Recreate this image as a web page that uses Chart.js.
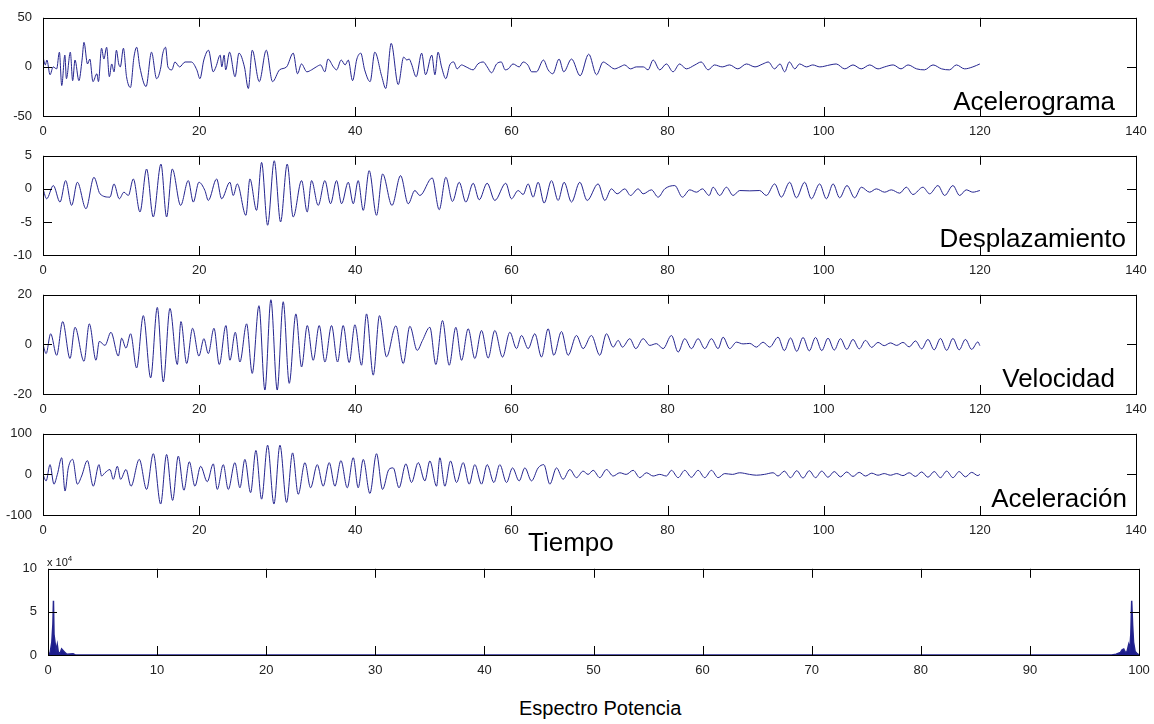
<!DOCTYPE html>
<html>
<head>
<meta charset="utf-8">
<script src="https://cdn.jsdelivr.net/npm/chart.js@4.4.1/dist/chart.umd.min.js"></script>
<style>
  html, body { margin: 0; padding: 0; background: #fff; overflow: hidden; }
  body { width: 1154px; height: 724px; position: relative; font-family: "Liberation Sans", Arial, sans-serif; }
  canvas { position: absolute; left: 0; }
  .lbl { position: absolute; font-size: 26px; line-height: 26px; color: #000; white-space: nowrap; }
  .exp { position: absolute; font-size: 11px; line-height: 11px; color: #111; }
</style>
</head>
<body>
<canvas id="c1"></canvas>
<canvas id="c2"></canvas>
<canvas id="c3"></canvas>
<canvas id="c4"></canvas>
<canvas id="c5"></canvas>

<div class="lbl" style="right:39px; top:88px;">Acelerograma</div>
<div class="lbl" style="right:28px; top:225px;">Desplazamiento</div>
<div class="lbl" style="right:39px; top:365px;">Velocidad</div>
<div class="lbl" style="right:27px; top:485px;">Aceleración</div>
<div class="lbl" style="left:528px; top:529px;">Tiempo</div>
<div class="lbl" style="left:519px; top:698px; font-size:20px; line-height:20px;">Espectro Potencia</div>
<div class="exp" style="left:47px; top:553px;">x 10<sup style="font-size:8px;">4</sup></div>

<script>
// ---- data (peaks / troughs) ----
const acelT = [0,0.3,0.5,0.9,1.3,1.75,2.1,2.4,2.8,3.0,3.5,3.8,4.1,4.6,5.0,5.25,5.7,6.0,6.4,6.9,7.1,7.5,7.8,8.15,8.5,8.8,9.1,9.4,9.7,9.9,10.3,10.7,11.2,11.65,12.0,12.4,13.2,13.9,14.55,15.1,15.3,15.7,16.0,16.5,16.9,17.5,18.2,19.0,19.7,20.1,20.6,21.2,21.8,22.15,22.7,22.9,23.2,23.4,23.9,24.6,25.1,25.8,26.3,26.8,27.7,28.6,29.4,30.3,31.2,32.05,32.6,33.1,33.8,34.4,35.0,35.55,36.1,36.5,37.2,37.6,38.2,38.7,39.1,39.65,40.2,40.7,41.2,41.9,42.5,43.4,43.9,44.6,45.5,46.2,46.6,46.9,47.2,47.8,48.5,49.0,49.8,50.2,50.6,51.05,51.6,52.1,52.6,53.05,53.6,54.2,55.1,55.7,56.4,56.9,57.45,58.1,58.7,59.2,59.6,60.2,61.0,61.5,62.1,62.6,63.2,64.1,64.7,65.3,66.1,66.7,67.7,68.8,69.9,70.9,71.75,72.4,73.2,73.9,74.5,75.25,76.0,76.9,77.5,78.15,79.0,79.85,80.7,81.55,82.4,83.5,84.3,85.2,86.0,87.0,87.95,89.0,90.1,91.2,92.2,92.9,93.7,94.4,95.0,95.6,96.3,96.9,97.8,98.6,99.5,100.8,101.6,102.7,103.75,104.8,105.9,106.95,107.8,108.9,109.9,110.8,111.9,112.9,114.0,115.1,116.1,117.0,118.05,119.1,120.0];
const acelV = [10,2,7,-8,0,-2,15,-19,12,-12,15,-14,7,-14,7,25,3,8,-15,-7,-15,19,8,20,-10,3,-5,17,3,0,19,-10,-21,10,20,0,-20,15,-12,0,12,20,0,-3,5,0,5,5,-3,-12,7,17,-5,0,12,0,12,-3,15,-10,14,0,-22,17,-15,17,-15,-3,0,14,-7,3,-5,-3,0,2,-5,8,0,-3,7,2,7,-14,8,14,-3,-15,15,-10,-22,24,-18,10,7,8,3,-10,14,-8,12,-8,15,0,-12,2,5,-2,2,0,-3,3,5,0,-6,3,5,-3,-2,3,0,5,2,-5,-5,7,-3,-7,8,-5,8,-9,13,-8,5,2,-2,0,2,-2,0,0,-3,7,-3,3,-5,3,-2,2,5,-3,2,0,2,-2,3,0,3,5,-2,3,-5,5,-2,3,0,2,0,2,3,-2,2,-2,2,-2,0,2,-2,2,-2,-3,2,-2,-3,2,-2,0,3];

const despT = [0,0.47,1.32,2.18,2.9,3.67,4.4,5.5,6.53,7.3,8.58,9.09,9.77,10.37,10.93,11.57,12.42,13.27,14.12,15.11,15.83,16.56,17.63,18.61,19.25,19.97,20.74,21.17,22.24,22.88,23.94,24.37,24.88,25.99,26.5,27.36,28.0,28.77,29.62,30.43,31.28,32.05,33.12,33.84,34.4,35.25,36.11,36.83,37.6,38.24,39.1,39.74,40.37,41.02,41.78,42.72,43.5,44.7,45.8,46.78,47.63,48.27,49.85,50.75,51.6,52.45,53.31,54.16,55.1,55.87,56.89,57.87,59.28,60.0,60.86,61.5,62.14,62.78,63.42,64.19,65.13,65.98,66.75,67.69,68.76,69.7,71.1,71.96,72.81,73.54,74.52,75.25,76.23,76.87,77.93,78.79,79.64,80.92,81.9,82.84,83.7,84.46,85.32,85.83,86.68,87.54,88.39,89.24,90.53,91.8,92.65,93.72,94.57,95.64,96.5,97.56,98.42,99.48,100.34,101.2,102.04,102.98,103.96,104.82,105.88,106.74,107.8,108.66,109.73,110.58,111.43,112.71,113.57,114.63,115.49,116.55,117.41,118.26,119.1,120];
const despV = [0,-1.5,0.5,-2,1.25,-2.5,1,-3,1.75,-0.75,-1.25,0.75,-1.5,-0.5,-1,1.5,-3.5,3,-4.25,3.75,-4.25,3,-2.5,1.25,-2,1,-0.25,-1.75,1.5,-1.5,1,-1,0.75,-4,1.5,-3.25,4,-5.5,4.25,-5,3.75,-4.25,1.25,-3.5,1.25,-2.5,1.25,-2.25,1.25,-2.25,1,-2.25,1.25,-3.25,2.75,-4,2.25,-2.5,2,-2.25,-0.25,-1,1.65,-3.15,1.75,-1.9,1,-2,0.85,-1.65,0.85,-1.75,0.85,-1.5,-0.25,-0.85,0.75,-1.25,1,-2.15,1.25,-1.75,1,-2,1,-1.75,0.75,-1.75,0,-0.75,0,-1,0,-0.75,-0.15,-1.25,0,0.5,-1.25,-0.15,-0.5,0,-1,0.25,-1,0.25,-1,-0.25,-0.3,-0.25,-1,0.75,-1.25,1,-1.35,1,-1.5,0.75,-1.5,0.75,-1.35,0.5,-1.35,0.25,-0.5,0,-0.5,-0.15,-0.65,0.25,-0.85,0.25,-0.75,0.5,-1,0.5,-1,-0.15,-0.5,-0.25];

const veloT = [0,0.4,0.98,1.75,2.52,3.46,4.1,5.25,5.93,6.79,7.21,7.94,8.7,9.65,10.07,10.63,11.22,11.99,12.85,13.79,14.64,15.41,16.26,17.2,17.67,18.4,19.16,19.97,20.61,21.17,21.9,22.58,23.43,23.94,24.63,25.22,26.08,26.8,27.66,28.42,29.19,30.0,30.77,31.54,32.39,33.12,33.85,34.61,35.38,36.11,36.96,37.73,38.45,39.22,39.95,40.8,41.44,42.3,43.1,44.0,45.2,46.14,46.99,47.93,48.61,49.55,50.32,51.17,52.03,52.88,53.61,54.46,55.31,56.17,57.02,57.87,58.86,59.8,60.65,61.29,62.14,63.0,63.85,64.7,65.43,66.41,67.26,68.33,69.18,70.25,71.32,72.17,73.03,73.67,74.22,75.16,75.93,76.87,77.72,78.57,79.43,80.5,81.35,82.2,83.06,83.91,84.76,85.62,86.47,87.11,87.96,88.82,89.67,90.53,91.38,92.23,93.08,94.15,94.95,95.75,96.55,97.35,98.15,98.95,99.75,100.55,101.35,102.15,102.95,103.75,104.55,105.35,106.15,106.95,107.75,108.55,109.35,110.15,110.95,111.75,112.55,113.35,114.15,114.95,115.75,116.55,117.35,118.15,118.95,119.75,120];
const veloV = [0,-3.7,4.3,-4.4,9.2,-5.7,6.9,-6.8,8.3,-6.4,1.2,-0.4,4.9,-4.7,2.5,-1.5,4.3,-9.5,11.6,-13.5,14.9,-15.1,14.5,-8.1,9.2,-7.7,6.5,-4.7,2.3,-3.7,6.5,-8.1,7.6,-6.4,4.9,-7.1,8.3,-11.7,15.6,-18.4,18,-18.4,17.2,-15.7,12.3,-9.1,7.6,-6.4,7.6,-7.1,7.6,-7.1,7.6,-7.3,7.9,-8.4,12.3,-12.4,11.6,-5,7.5,-7.7,7.3,-2.4,1.6,6.9,-8.1,9.6,-8.4,6.9,-6.4,6.3,-5.7,5.6,-5.5,5.6,-5.1,4.9,-1.7,3.6,-1.7,4.3,-5.1,6.3,-4.4,5.2,-4.4,3.6,-1.7,3.6,-4.4,4.3,-1.1,1.6,-1.1,2.3,-1.7,2.3,-0.4,0.3,-1.7,3.6,-3.1,2.3,-1.7,2.3,-1.7,2.3,-1.7,2.9,-1.7,0.9,0.2,0.4,-1.1,0.9,-1.1,2.9,-2.5,2.6,-2.8,2.8,-2.6,2.8,-2.5,2.5,-2.3,2.3,-2,2,-1.8,1.6,-1.2,0.8,-0.5,0.6,-0.4,0.8,-1,1.4,-1.8,2,-2.2,2.4,-2.4,2.4,-2.2,2,-2,1,-0.5];

const acelerT = [0,0.4,0.9,1.4,1.84,2.39,2.82,3.24,3.8,4.4,4.95,5.68,6.44,7.17,7.51,7.94,8.58,9.0,9.52,9.94,10.63,11.27,12.33,13.27,14.13,15.07,15.83,16.6,17.33,18.05,18.74,19.46,20.19,21.04,21.81,22.32,23.09,23.73,24.58,25.22,25.86,26.59,27.27,28.0,28.77,29.58,30.35,31.2,31.97,32.69,33.55,34.27,35.13,35.89,36.66,37.39,38.16,38.97,39.74,40.37,41.02,41.87,42.72,43.49,44.3,44.86,45.6,46.48,47.2,48.06,48.91,49.55,50.41,50.83,51.47,52.2,52.97,53.82,54.59,55.31,56.17,56.89,57.75,58.51,59.37,60.14,60.99,61.72,62.57,63.42,64.15,64.92,65.77,66.62,67.48,68.33,69.18,69.82,70.47,71.32,72.17,73.03,73.88,74.7,75.59,76.44,77.3,78.15,79.0,79.85,80.5,81.35,82.2,83.06,83.91,84.76,85.62,86.47,87.32,88.3,89.24,90.5,91.38,92.4,93.52,94.15,94.95,95.75,96.55,97.35,98.15,98.95,99.75,100.55,101.35,102.15,102.95,103.75,104.55,105.35,106.15,106.95,107.75,108.55,109.35,110.15,110.95,111.75,112.55,113.35,114.15,114.95,115.75,116.55,117.35,118.15,118.95,119.75,120];
const acelerV = [0,-16,24,-24,0,41,-41,16,37,-24,-4,34,-29,24,-4,4,12,-12,20,-12,12,-29,37,-37,51,-73,49,-64,45,-39,31,-29,20,-18,26,-37,24,-37,29,-33,37,-45,59,-61,72,-73,72,-69,53,-49,29,-33,24,-29,29,-29,34,-33,41,-33,37,-47,51,-37,12,16,-33,26,-20,29,-16,33,-29,41,-29,33,-20,29,-24,24,-24,24,-20,24,-20,16,-16,16,-16,16,24,-24,16,-12,12,-8,8,0,10,-8,12,-4,4,0,10,-8,4,-4,0,-4,10,-8,10,-7,10,-8,10,-8,2,0,4,0,-2,0,4,-4,8,-8,9,-9,9,-8,8,-7,7,-6,6,-5,5,-4,3,-2,2,-2,2,-3,4,-5,6,-7,7,-8,8,-8,7,-6,5,-3,0];

// power spectrum, units of 10^4
const specF = [0,0.2,0.35,0.45,0.5,0.55,0.65,0.75,0.85,0.95,1.1,1.25,1.4,1.55,1.7,2.3,2.5,97.5,97.9,98.3,98.45,98.6,98.75,98.9,99.05,99.15,99.25,99.33,99.42,99.5,99.65,99.8,100];
const specP = [0,0.3,1.5,3.6,6.3,2.4,1.4,0.5,1.2,0.3,0.2,0.7,0.5,0.3,0.1,0.15,0,0,0.1,0.3,0.6,0.7,0.3,0.4,1.2,0.6,2.4,6.3,3.4,1.5,0.4,0.2,0];

const lineColor = '#25258f';
const tickFont = { family: '"Liberation Sans", Arial, sans-serif', size: 13 };

// black frame with inward ticks on all four sides (matlab look)
const frameTicks = {
  id: 'frameTicks',
  afterDraw(chart) {
    const { ctx, chartArea: a, scales: { x, y } } = chart;
    const len = 9;
    ctx.save();
    ctx.strokeStyle = '#000';
    ctx.lineWidth = 1;
    ctx.strokeRect(Math.round(a.left) + 0.5, Math.round(a.top) + 0.5, Math.round(a.right - a.left), Math.round(a.bottom - a.top));
    ctx.beginPath();
    x.ticks.forEach(t => {
      const px = Math.round(x.getPixelForValue(t.value)) + 0.5;
      ctx.moveTo(px, a.bottom); ctx.lineTo(px, a.bottom - len);
      ctx.moveTo(px, a.top); ctx.lineTo(px, a.top + len);
    });
    y.ticks.forEach(t => {
      const py = Math.round(y.getPixelForValue(t.value)) + 0.5;
      ctx.moveTo(a.left, py); ctx.lineTo(a.left + len, py);
      ctx.moveTo(a.right, py); ctx.lineTo(a.right - len, py);
    });
    ctx.stroke();
    ctx.restore();
  }
};

const pairs = (xs, ys) => xs.map((v, i) => ({ x: v, y: ys[i] }));

function makePlot(id, area, xs, ys, opts) {
  const [L, T, R, B] = area;
  const padTop = 10, xH = 24;
  const canvas = document.getElementById(id);
  canvas.width = 1154;
  canvas.height = (B - T) + padTop + xH;
  canvas.style.top = (T - padTop) + 'px';

  new Chart(canvas.getContext('2d'), {
    type: 'line',
    data: {
      datasets: [{
        data: pairs(xs, ys),
        borderColor: lineColor,
        backgroundColor: opts.fill ? '#1c1c8c' : 'transparent',
        fill: opts.fill ? 'origin' : false,
        borderWidth: opts.width || 1,
        pointRadius: 0,
        tension: opts.fill ? 0 : 0.4,
        cubicInterpolationMode: opts.fill ? 'default' : 'monotone'
      }]
    },
    options: {
      responsive: false,
      animation: false,
      devicePixelRatio: 1,
      layout: { padding: { top: padTop, right: 1154 - R, left: 0, bottom: 0 } },
      plugins: { legend: { display: false }, tooltip: { enabled: false } },
      scales: {
        x: {
          type: 'linear', min: 0, max: opts.xMax,
          grid: { display: false }, border: { display: false },
          ticks: { stepSize: opts.xStep, font: tickFont, color: '#222', padding: 0, maxRotation: 0 },
          afterFit: s => { s.height = xH; }
        },
        y: {
          min: opts.yMin, max: opts.yMax,
          grid: { display: false }, border: { display: false },
          ticks: { stepSize: opts.yStep, font: tickFont, color: '#222', padding: 3 },
          afterFit: s => { s.width = L; }
        }
      }
    },
    plugins: [frameTicks]
  });
}

makePlot('c1', [43, 17, 1136, 116], acelT, acelV, { xMax: 140, xStep: 20, yMin: -50, yMax: 50, yStep: 50 });
makePlot('c2', [43, 155, 1136, 255], despT, despV, { xMax: 140, xStep: 20, yMin: -10, yMax: 5, yStep: 5 });
makePlot('c3', [43, 294, 1136, 394], veloT, veloV, { xMax: 140, xStep: 20, yMin: -20, yMax: 20, yStep: 20 });
makePlot('c4', [43, 433, 1136, 515], acelerT, acelerV, { xMax: 140, xStep: 20, yMin: -100, yMax: 100, yStep: 100 });
makePlot('c5', [48, 568, 1139, 655], specF, specP, { xMax: 100, xStep: 10, yMin: 0, yMax: 10, yStep: 5, fill: true, width: 1.5 });
</script>
</body>
</html>
